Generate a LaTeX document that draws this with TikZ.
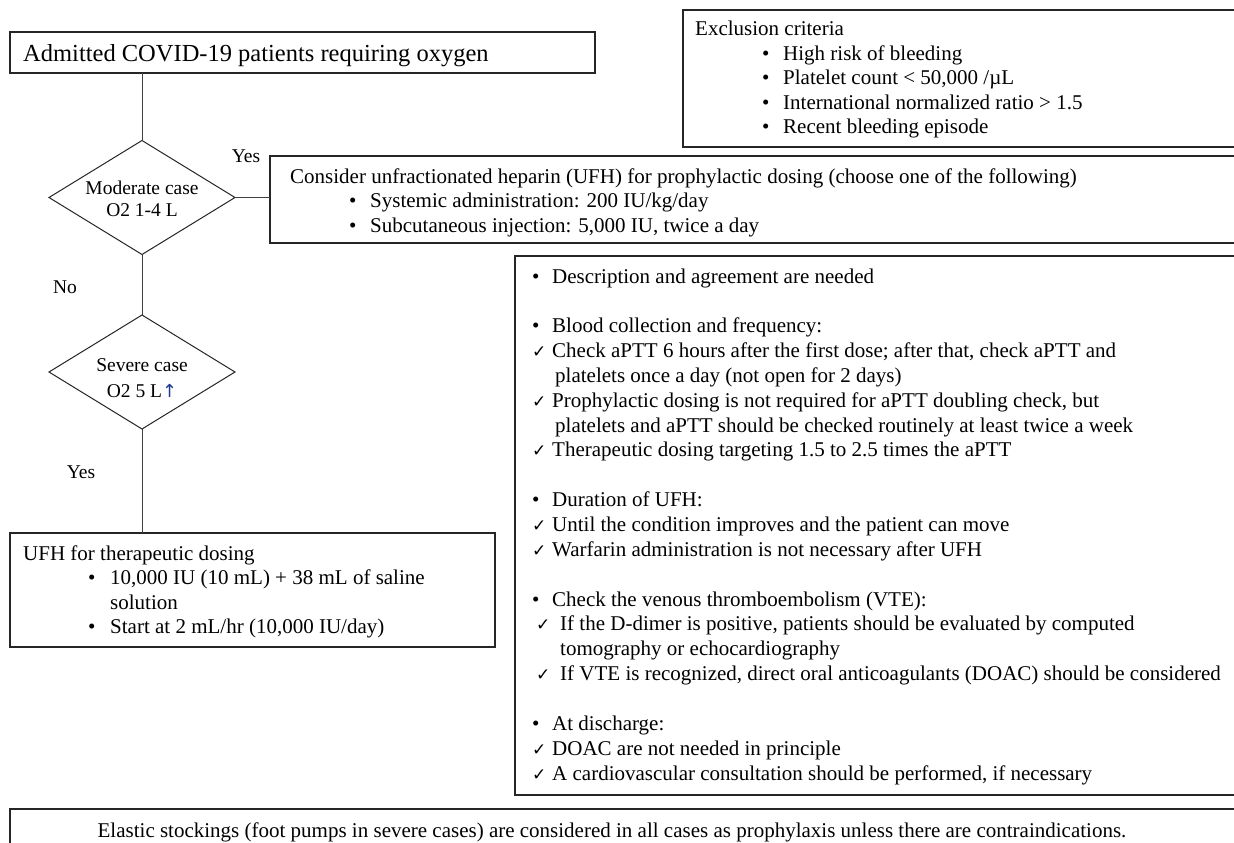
\documentclass[tikz,border=0pt]{standalone}
\usepackage{fontspec}
\setmainfont{Liberation Serif}
\newfontfamily\symfont{DejaVu Sans}
\usetikzlibrary{shapes.geometric}
\definecolor{arrowblue}{HTML}{1F3A93}
\newcommand\chk{{\symfont\fontsize{17}{17}\selectfont ✓}}
\newcommand\bitem[2]{\makebox[#1][l]{•}#2}
\newcommand\citem[2]{\makebox[#1][l]{\chk}#2}
\begin{document}
\begin{tikzpicture}[x=1pt,y=-1pt,
  box/.style={draw=black!85, line width=1.1pt, anchor=north west, inner sep=0pt, outer sep=0pt},
  decision/.style={diamond, draw=black!85, line width=1pt, minimum width=186pt, minimum height=114pt, inner sep=0pt, outer sep=0pt},
  conn/.style={draw=black!75, line width=0.9pt},
  txt/.style={anchor=base west, inner sep=0pt},
  ctr/.style={anchor=base, inner sep=0pt, font=\fontsize{19.5}{22}\selectfont}]
\useasboundingbox (0,0) rectangle (1234,843);
\clip (0,0) rectangle (1234,843);
\fill[white] (0,0) rectangle (1234,843);

% boxes
\node[box, minimum width=600pt, minimum height=137pt] (excl) at (683,10) {};
\node[box, minimum width=585pt, minimum height=41pt] (admit) at (10,32) {};
\node[box, minimum width=1000pt, minimum height=87pt] (cons) at (270,156) {};
\node[box, minimum width=760pt, minimum height=539pt] (mon) at (515,256) {};
\node[box, minimum width=485pt, minimum height=114pt] (ther) at (10,533) {};
\node[box, minimum width=1260pt, minimum height=60pt] (foot) at (10,809) {};

% decisions
\node[decision] (d1) at (142,197.5) {};
\node[decision] (d2) at (142,372) {};
\node[ctr] (d1a) at (142,194) {Moderate case};
\node[ctr] (d1b) at (142,216) {O2 1-4 L};
\node[ctr] (d2a) at (142,371) {Severe case};
\node[ctr] (d2b) at (142,397) {O2 5 L{\color{arrowblue}\symfont\fontsize{18}{18}\selectfont ↑}};

% labels
\node[ctr] (yes1) at (246,162) {Yes};
\node[ctr] (no1) at (65,293) {No};
\node[ctr] (yes2) at (81,478) {Yes};

% connectors
\draw[conn] (admit.south -| d1.north) -- (d1.north);
\draw[conn] (d1.east) -- (d1.east -| cons.west);
\draw[conn] (d1.south) -- (d2.north);
\draw[conn] (d2.south) -- (d2.south |- ther.north);

% texts
\node[txt, font=\fontsize{24.5}{28}\selectfont] (admitT) at (23,62) {Admitted COVID-19 patients requiring oxygen};

\node[txt] (exclT) at (695,36) {\parbox[t]{540pt}{\fontsize{21}{24.5}\selectfont
Exclusion criteria\\
\hspace*{67pt}\bitem{21pt}{High risk of bleeding}\\
\hspace*{67pt}\bitem{21pt}{Platelet count < 50,000 /µL}\\
\hspace*{67pt}\bitem{21pt}{International normalized ratio > 1.5}\\
\hspace*{67pt}\bitem{21pt}{Recent bleeding episode}}};

\node[txt] (consT) at (290,183) {\parbox[t]{940pt}{\fontsize{21}{24.5}\selectfont
Consider unfractionated heparin (UFH) for prophylactic dosing (choose one of the following)\\
\hspace*{59pt}\bitem{21pt}{Systemic administration: 200 IU/kg/day}\\
\hspace*{59pt}\bitem{21pt}{Subcutaneous injection: 5,000 IU, twice a day}}};

\node[txt] (monT) at (532,283) {\parbox[t]{720pt}{\fontsize{21}{24.85}\selectfont
\bitem{20pt}{Description and agreement are needed}\\[24.85pt]
\bitem{20pt}{Blood collection and frequency:}\\
\citem{20pt}{Check aPTT 6 hours after the first dose; after that, check aPTT and}\\
\hspace*{23pt}platelets once a day (not open for 2 days)\\
\citem{20pt}{Prophylactic dosing is not required for aPTT doubling check, but}\\
\hspace*{23pt}platelets and aPTT should be checked routinely at least twice a week\\
\citem{20pt}{Therapeutic dosing targeting 1.5 to 2.5 times the aPTT}\\[24.85pt]
\bitem{20pt}{Duration of UFH:}\\
\citem{20pt}{Until the condition improves and the patient can move}\\
\citem{20pt}{Warfarin administration is not necessary after UFH}\\[24.85pt]
\bitem{20pt}{Check the venous thromboembolism (VTE):}\\
\hspace*{4pt}\citem{24pt}{If the D-dimer is positive, patients should be evaluated by computed}\\
\hspace*{28pt}tomography or echocardiography\\
\hspace*{4pt}\citem{24pt}{If VTE is recognized, direct oral anticoagulants (DOAC) should be considered}\\[24.85pt]
\bitem{20pt}{At discharge:}\\
\citem{20pt}{DOAC are not needed in principle}\\
\citem{20pt}{A cardiovascular consultation should be performed, if necessary}}};

\node[txt] (therT) at (23,560) {\parbox[t]{470pt}{\fontsize{21}{24.5}\selectfont
UFH for therapeutic dosing\\
\hspace*{65pt}\bitem{22pt}{10,000 IU (10 mL) + 38 mL of saline}\\
\hspace*{87pt}solution\\
\hspace*{65pt}\bitem{22pt}{Start at 2 mL/hr (10,000 IU/day)}}};

\node[anchor=base, inner sep=0pt, font=\fontsize{21}{24.5}\selectfont] (footT) at (612,837) {Elastic stockings (foot pumps in severe cases) are considered in all cases as prophylaxis unless there are contraindications.};
\end{tikzpicture}
\end{document}
